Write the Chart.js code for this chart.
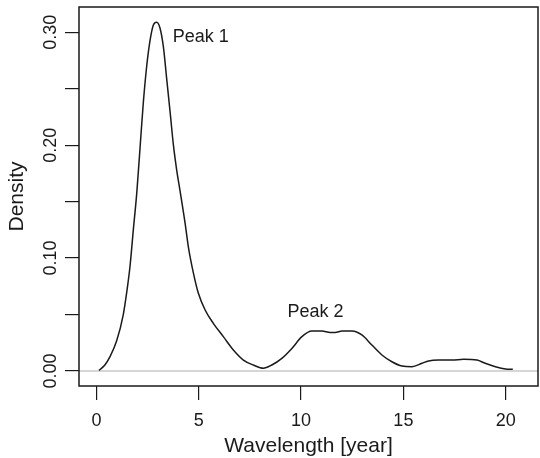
<!DOCTYPE html>
<html>
<head>
<meta charset="utf-8">
<script src="https://cdn.jsdelivr.net/npm/chart.js@4/dist/chart.umd.min.js"></script>
<style>
  html, body { margin: 0; padding: 0; background: #fff; }
  #wrap { width: 540px; height: 458px; position: relative; }
</style>
</head>
<body>
<div id="wrap"><canvas id="densityChart"></canvas></div>
<script>
// density curve
const wavelength = [0.12, 0.4, 0.66, 0.99, 1.31, 1.48, 1.64, 1.8, 1.97, 2.13, 2.29, 2.46, 2.62, 2.78, 2.94, 3.1,
  3.27, 3.43, 3.6, 3.76, 3.92, 4.08, 4.33, 4.49, 4.74, 4.98, 5.31, 5.71, 6.2, 6.69, 7.18, 7.67, 8.16, 8.57,
  9.06, 9.55, 10.04, 10.53, 11.02, 11.42, 11.67, 12.0, 12.49, 12.97, 13.46, 13.95, 14.44, 14.93, 15.42,
  15.91, 16.23, 16.72, 17.38, 17.95, 18.6, 19.0, 19.5, 19.99, 20.35];
const density = [0.0005, 0.005, 0.0127, 0.027, 0.05, 0.07, 0.093, 0.125, 0.158, 0.198, 0.238, 0.271, 0.293,
  0.3065, 0.309, 0.304, 0.287, 0.259, 0.229, 0.2, 0.178, 0.16, 0.131, 0.11, 0.0865, 0.0688, 0.054, 0.0422,
  0.0304, 0.0186, 0.0097, 0.0053, 0.0024, 0.0053, 0.0112, 0.02, 0.0304, 0.0354, 0.0354, 0.034, 0.034, 0.0354,
  0.0354, 0.0319, 0.023, 0.0142, 0.0082, 0.0044, 0.0038, 0.0068, 0.0089, 0.0097, 0.0097, 0.0104, 0.0097,
  0.0068, 0.0038, 0.0018, 0.0015];

const xTicks = [0, 5, 10, 15, 20];
const yTicks = [0, 0.05, 0.1, 0.15, 0.2, 0.25, 0.3];
const yTickLabels = ["0.00", "", "0.10", "", "0.20", "", "0.30"];

const peakLabels = ["Peak 1", "Peak 2"];
const peakX = [5.1, 10.7];
const peakY = [0.2955, 0.0525];

const FONT = "'Liberation Sans', Arial, sans-serif";

// grey zero line, box and peak labels
const extras = {
  id: "extras",
  beforeDatasetsDraw(chart) {
    const { ctx, chartArea: a, scales } = chart;
    const y0 = scales.y.getPixelForValue(0);
    ctx.save();
    ctx.strokeStyle = "#c8c8c8";
    ctx.lineWidth = 1.5;
    ctx.beginPath();
    ctx.moveTo(a.left, y0);
    ctx.lineTo(a.right, y0);
    ctx.stroke();
    ctx.restore();
  },
  afterDraw(chart) {
    const { ctx, chartArea: a, scales } = chart;
    ctx.save();
    ctx.strokeStyle = "#1a1a1a";
    ctx.lineWidth = 1.5;
    ctx.strokeRect(a.left, a.top, a.right - a.left, a.bottom - a.top);
    ctx.fillStyle = "#1a1a1a";
    ctx.font = "18px " + FONT;
    ctx.textAlign = "center";
    ctx.textBaseline = "middle";
    peakLabels.forEach((t, i) => {
      ctx.fillText(t, scales.x.getPixelForValue(peakX[i]), scales.y.getPixelForValue(peakY[i]));
    });
    ctx.restore();
  },
};

new Chart(document.getElementById("densityChart"), {
  type: "line",
  data: {
    datasets: [
      {
        data: wavelength.map((x, i) => ({ x: x, y: density[i] })),
        borderColor: "#1a1a1a",
        borderWidth: 1.5,
        pointRadius: 0,
        fill: false,
        cubicInterpolationMode: "monotone",
      },
    ],
  },
  options: {
    responsive: true,
    maintainAspectRatio: false,
    animation: false,
    layout: { padding: { top: 7, right: 2, left: 0, bottom: 0 } },
    plugins: { legend: { display: false }, tooltip: { enabled: false } },
    scales: {
      x: {
        type: "linear",
        min: -0.855,
        max: 21.58,
        afterBuildTicks: (s) => { s.ticks = xTicks.map((v) => ({ value: v })); },
        afterFit: (s) => { s.height = 72; },
        border: { display: false },
        grid: { drawOnChartArea: false, drawTicks: true, tickLength: 14, color: "#1a1a1a", lineWidth: 1.2 },
        ticks: { color: "#1a1a1a", font: { family: FONT, size: 18 }, padding: 10, maxRotation: 0 },
        title: { display: true, text: "Wavelength [year]", color: "#1a1a1a", font: { family: FONT, size: 21 }, padding: { top: 0, bottom: -1 } },
      },
      y: {
        type: "linear",
        min: -0.0133,
        max: 0.3224,
        afterBuildTicks: (s) => { s.ticks = yTicks.map((v) => ({ value: v })); },
        afterFit: (s) => { s.width = 79; },
        border: { display: false },
        grid: { drawOnChartArea: false, drawTicks: true, tickLength: 14, color: "#1a1a1a", lineWidth: 1.2 },
        ticks: {
          color: "#1a1a1a",
          font: { family: FONT, size: 18 },
          padding: -4,
          minRotation: 90,
          maxRotation: 90,
          crossAlign: "center",
          callback: (v, i) => yTickLabels[i],
        },
        title: { display: true, text: "Density", color: "#1a1a1a", font: { family: FONT, size: 21 }, padding: { top: 5, bottom: 0 } },
      },
    },
  },
  plugins: [extras],
});
</script>
</body>
</html>
